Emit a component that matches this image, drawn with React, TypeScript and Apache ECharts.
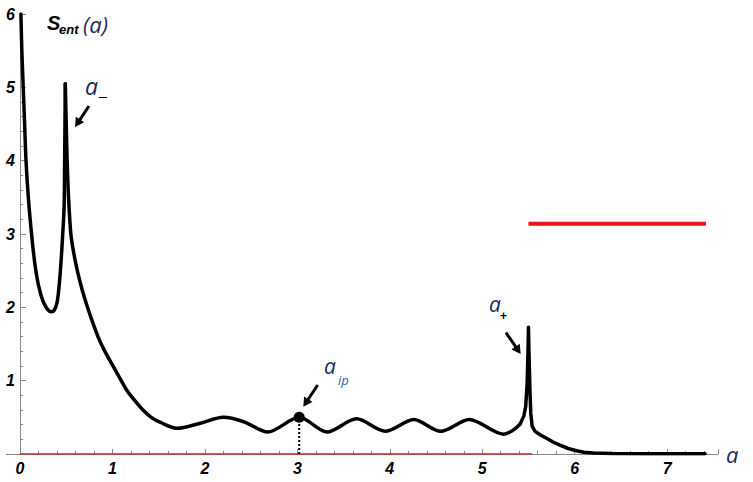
import React, { useEffect, useRef } from "react";
import * as echarts from "echarts";

// ---- data ----
// left branch, from a = 0 up to the a_- singularity
const leftX = [0.01, 0.02, 0.035, 0.05, 0.065, 0.09, 0.125, 0.16, 0.2, 0.25, 0.3, 0.34, 0.37, 0.4, 0.42, 0.44, 0.46, 0.475, 0.48];
const leftY = [6.0, 5.5, 5.0, 4.5, 4.0, 3.5, 3.0, 2.6, 2.3, 2.08, 1.97, 1.94, 1.96, 2.06, 2.25, 2.55, 2.95, 3.3, 3.55];
// right branch and oscillations, from a_- up to just before a_+
const rightX = [
  0.49, 0.5, 0.51, 0.525, 0.55, 0.58, 0.62, 0.67, 0.73, 0.79, 0.85, 0.91, 0.97, 1.06, 1.15, 1.24, 1.33, 1.42, 1.52,
  1.7, 1.95, 2.2, 2.42, 2.68, 3.02, 3.32, 3.64, 3.95, 4.26, 4.55, 4.86, 5.23, 5.3, 5.36, 5.41,
];
const rightY = [
  5.05, 4.5, 4.0, 3.5, 3.0, 2.75, 2.5, 2.25, 2.0, 1.78, 1.58, 1.42, 1.28, 1.08, 0.88, 0.73, 0.6, 0.5, 0.43,
  0.35, 0.42, 0.5, 0.44, 0.3, 0.5, 0.3, 0.48, 0.31, 0.47, 0.31, 0.47, 0.27, 0.3, 0.35, 0.41,
];
// a_+ spike and decaying tail
const tailX = [5.41, 5.45, 5.47, 5.485, 5.495, 5.5, 5.505, 5.515, 5.525, 5.54, 5.57, 5.63, 5.7, 5.77, 5.84, 5.93, 6.02, 6.1, 6.2, 6.4, 6.8, 7.41];
const tailY = [0.41, 0.52, 0.65, 0.95, 1.4, 1.73, 1.4, 0.9, 0.55, 0.38, 0.31, 0.26, 0.21, 0.16, 0.12, 0.075, 0.045, 0.025, 0.015, 0.007, 0.004, 0.002];

const redBaseX = [0, 5.54];
const redBaseY = [0, 0];
const redLevelX = [5.5, 7.42];
const redLevelY = [3.14, 3.14];
const ipPointX = [3.02];
const ipPointY = [0.5];
const xTicks = [0, 1, 2, 3, 4, 5, 6, 7];
const yTicks = [1, 2, 3, 4, 5, 6];

const zip = (xs: number[], ys: number[]) => xs.map((x, i) => [x, ys[i]]);

function arrow(x1: number, y1: number, x2: number, y2: number) {
  const dx = x2 - x1, dy = y2 - y1;
  const len = Math.sqrt(dx * dx + dy * dy);
  const ux = dx / len, uy = dy / len;
  const hl = 9, hw = 5;
  const bx = x2 - hl * ux, by = y2 - hl * uy;
  const px = -uy * hw, py = ux * hw;
  return [
    { type: "line", shape: { x1, y1, x2: bx + ux, y2: by + uy }, style: { stroke: "#000", lineWidth: 3 }, z: 20 },
    {
      type: "polygon",
      shape: { points: [[x2, y2], [bx + px, by + py], [bx - px, by - py]] },
      style: { fill: "#000" },
      z: 20,
    },
  ];
}

const navy = "#1b2a5e";
const blue = "#2a5fc0";
const aFont = "'Open Sans', 'Noto Sans', sans-serif";
const curveLine = { color: "#000", width: 3.5, cap: "round", join: "round" };

export default function App() {
  const ref = useRef<HTMLDivElement>(null);
  useEffect(() => {
    const chart = echarts.init(ref.current!, undefined, { renderer: "svg" });
    const labelStyle = {
      color: "#000",
      fontFamily: "'Liberation Sans', Arial, sans-serif",
      fontWeight: "bold" as const,
      fontStyle: "italic" as const,
      fontSize: 16,
    };
    chart.setOption({
      animation: false,
      backgroundColor: "#fff",
      grid: { left: 20, top: 14, width: 698, height: 440, containLabel: false },
      xAxis: {
        type: "value",
        min: 0,
        max: 7.55,
        interval: 1,
        splitLine: { show: false },
        axisLine: { lineStyle: { color: "#888", width: 1 } },
        axisTick: { inside: true, length: 5, lineStyle: { color: "#888" } },
        minorTick: { show: true, splitNumber: 5, length: 3, lineStyle: { color: "#888" } },
        axisLabel: {
          ...labelStyle,
          margin: 6,
          showMaxLabel: false,
          formatter: (v: number) => (xTicks.includes(v) ? String(v) : ""),
        },
        name: "a",
        nameLocation: "end",
        nameGap: 8,
        nameTextStyle: { fontFamily: aFont, fontStyle: "italic", fontSize: 22, color: navy, verticalAlign: "middle", padding: [0, 0, 4, 0] },
      },
      yAxis: {
        type: "value",
        min: 0,
        max: 6,
        interval: 1,
        splitLine: { show: false },
        axisLine: { lineStyle: { color: "#888", width: 1 } },
        axisTick: { inside: true, length: 6, lineStyle: { color: "#888" } },
        minorTick: { show: true, splitNumber: 5, length: 3, lineStyle: { color: "#888" } },
        axisLabel: {
          ...labelStyle,
          margin: 5,
          showMinLabel: false,
          formatter: (v: number) => (yTicks.includes(v) ? String(v) : ""),
        },
      },
      series: [
        {
          type: "line",
          data: zip(redBaseX, redBaseY),
          symbol: "none",
          lineStyle: { color: "#d81818", width: 1.5 },
          z: 3,
        },
        {
          type: "line",
          data: zip(redLevelX, redLevelY),
          symbol: "none",
          lineStyle: { color: "#e8141c", width: 4 },
          z: 3,
        },
        {
          type: "line",
          data: zip(ipPointX, [0]).concat(zip(ipPointX, ipPointY)),
          symbol: "none",
          lineStyle: { color: "#000", width: 2, type: [2, 2] },
          z: 4,
        },
        {
          type: "line",
          data: zip(leftX, leftY),
          symbol: "none",
          smooth: 0.3,
          lineStyle: curveLine,
          z: 5,
        },
        {
          type: "line",
          data: [zip(leftX, leftY)[leftX.length - 1], zip(rightX, rightY)[0]],
          symbol: "none",
          lineStyle: curveLine,
          z: 5,
        },
        {
          type: "line",
          data: zip(rightX, rightY),
          symbol: "none",
          smooth: 0.3,
          lineStyle: curveLine,
          z: 5,
        },
        {
          type: "line",
          data: zip(tailX, tailY),
          symbol: "none",
          lineStyle: curveLine,
          z: 5,
        },
        {
          type: "scatter",
          data: zip(ipPointX, ipPointY),
          symbolSize: 11,
          itemStyle: { color: "#000", opacity: 1 },
          z: 6,
        },
      ],
      graphic: [
        // x axis line continues a little to the left of the y axis
        { type: "line", shape: { x1: 6, y1: 454.5, x2: 20, y2: 454.5 }, style: { stroke: "#888", lineWidth: 1 }, z: 1 },

        { type: "text", x: 47, y: 23, style: { text: "S", font: "italic bold 20px 'Liberation Sans', Arial", fill: "#000", verticalAlign: "middle" }, z: 20 },
        { type: "text", x: 59, y: 29, style: { text: "ent", font: "italic bold 13px 'Liberation Sans', Arial", fill: "#000", verticalAlign: "middle" }, z: 20 },
        { type: "text", x: 83, y: 24, style: { text: "(a)", font: `italic 22px ${aFont}`, fill: navy, verticalAlign: "middle" }, z: 20 },

        { type: "text", x: 85, y: 86, style: { text: "a", font: `italic 23px ${aFont}`, fill: navy, verticalAlign: "middle" }, z: 20 },
        { type: "text", x: 99, y: 90, style: { text: "_", font: `14px 'Liberation Sans', Arial`, fill: "#000", verticalAlign: "middle" }, z: 20 },

        { type: "text", x: 324, y: 366, style: { text: "a", font: `italic 21px ${aFont}`, fill: navy, verticalAlign: "middle" }, z: 20 },
        { type: "text", x: 338, y: 380, style: { text: "ip", font: `italic 13px ${aFont}`, fill: blue, verticalAlign: "middle" }, z: 20 },

        { type: "text", x: 489, y: 304, style: { text: "a", font: `italic 21px ${aFont}`, fill: navy, verticalAlign: "middle" }, z: 20 },
        { type: "text", x: 500, y: 316, style: { text: "+", font: `bold 12px 'Liberation Sans', Arial`, fill: "#000", verticalAlign: "middle" }, z: 20 },

        ...arrow(89, 106, 75, 127),
        ...arrow(317.7, 385, 303.3, 406.7),
        ...arrow(506, 332.7, 520.7, 354),
      ],
    });
    return () => chart.dispose();
  }, []);
  return <div ref={ref} style={{ position: "fixed", left: 0, top: 0, width: 753, height: 482 }} />;
}
